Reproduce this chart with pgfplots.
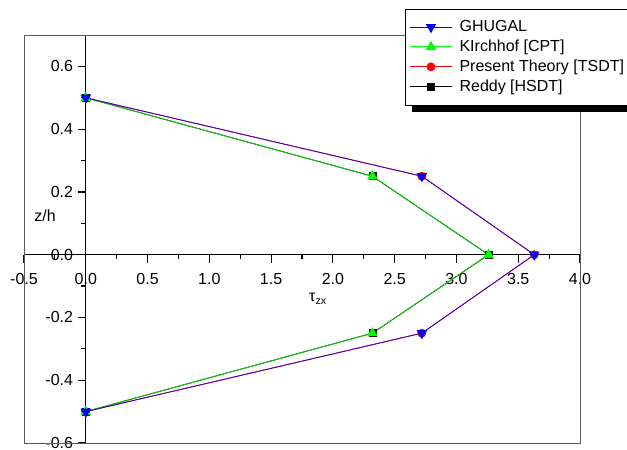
\documentclass[border=0pt]{standalone}
\usepackage{pgfplots}
\pgfplotsset{compat=1.18}
\usepackage{fontspec}
\setmainfont{Liberation Sans}
\begin{document}
\begin{tikzpicture}
\begin{axis}[
  scale only axis, width=417pt, height=306pt,
  xmin=-0.5, xmax=4.0, ymin=-0.6, ymax=0.7,
  axis lines=middle,
  axis line style={-, black, line width=0.9pt},
  hide obscured x ticks=false, hide obscured y ticks=false,
  xtick={-0.5,0,0.5,1,1.5,2,2.5,3,3.5,4},
  ytick={-0.6,-0.4,-0.2,0,0.2,0.4,0.6},
  minor x tick num=1, minor y tick num=1,
  tick align=outside,
  major tick length=6pt, minor tick length=3.5pt,
  tick style={black, line width=0.9pt},
  /pgf/number format/assume math mode=true,
  xticklabel style={yshift=-4.5pt, /pgf/number format/.cd, fixed, fixed zerofill, precision=1},
  yticklabel style={/pgf/number format/.cd, fixed, fixed zerofill, precision=1},
  tick label style={font=\fontsize{12}{14}\selectfont},
  clip=false,
  legend cell align=left,
  legend style={at={(rel axis cs:0.686,1.064)}, anchor=north west, draw=black, fill=white, thin,
    font=\fontsize{12}{14}\selectfont, row sep=0.8pt, inner ysep=6.5pt,
    /tikz/every odd column/.append style={column sep=3.5pt}},
  legend image code/.code={\draw[mark repeat=2,mark phase=2,#1] plot coordinates {(0cm,0cm) (0.55cm,0cm) (1.1cm,0cm)};},
]
\coordinate (ll) at (rel axis cs:0,0);
\draw[black!65, line width=0.6pt] (rel axis cs:0,0) rectangle (rel axis cs:1,1);
% legend shadow
\fill[black] (rel axis cs:0.698,1.04) rectangle (rel axis cs:1.3,0.811);
\addlegendimage{blue, line width=0.6pt, mark=triangle*, mark size=4pt, mark options={rotate=180, fill=blue}}
\addlegendentry{GHUGAL}
\addlegendimage{green, line width=0.6pt, mark=triangle*, mark size=4pt, mark options={fill=green}}
\addlegendentry{KIrchhof [CPT]}
\addlegendimage{red, line width=0.6pt, mark=*, mark size=3pt, mark options={fill=red}}
\addlegendentry{Present Theory [TSDT]\hspace{8pt}}
\addlegendimage{black, line width=0.6pt, mark=square*, mark size=2.6pt, mark options={fill=black}}
\addlegendentry{Reddy [HSDT]}
% Present Theory
\addplot[forget plot, red, line width=0.6pt, mark=*, mark size=3pt, mark options={fill=red}] coordinates {
(0,0.5) (2.72,0.25) (3.63,0) (2.72,-0.25) (0,-0.5)};
% Reddy
\addplot[forget plot, black, line width=0.6pt, mark=square*, mark size=2.6pt, mark options={fill=black}] coordinates {
(0,0.5) (2.32,0.25) (3.26,0) (2.32,-0.25) (0,-0.5)};
% Kirchhof
\addplot[forget plot, green!85!black, line width=0.6pt, mark=triangle*, mark size=4pt, mark options={fill=green, draw=green}] coordinates {
(0,0.5) (2.32,0.25) (3.26,0) (2.32,-0.25) (0,-0.5)};
% Ghugal
\addplot[forget plot, blue!80!red, line width=0.6pt, mark=triangle*, mark size=4pt, mark options={rotate=180, fill=blue, draw=blue}] coordinates {
(0,0.5) (2.72,0.25) (3.63,0) (2.72,-0.25) (0,-0.5)};
\node[font=\fontsize{12}{14}\selectfont] at (axis cs:-0.33,0.125) {z/h};
\node[font=\fontsize{12}{14}\selectfont] at (axis cs:1.88,-0.14) {τ\textsubscript{zx}};
\end{axis}
\pgfresetboundingbox
\path[use as bounding box] ([shift={(-18pt,-4.5pt)}]ll) rectangle ([shift={(452.25pt,332.25pt)}]ll);
\end{tikzpicture}
\end{document}
